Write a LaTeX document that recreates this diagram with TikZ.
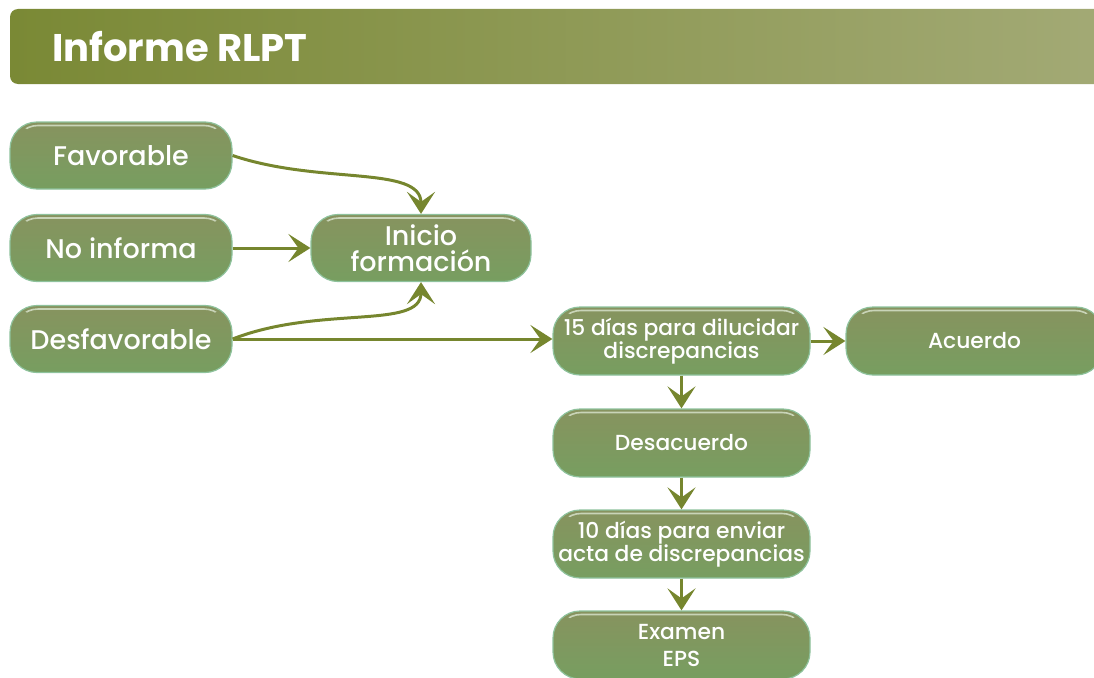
\documentclass[tikz,border=0pt]{standalone}
\usepackage{fontspec}
\setmainfont{Poppins}[UprightFont=*-Medium,BoldFont=*-SemiBold]
\newfontfamily\titlefont{Poppins}[UprightFont=*-Bold]
\usetikzlibrary{arrows.meta,shapes.misc}
\definecolor{hdrL}{HTML}{7A8935}
\definecolor{hdrR}{HTML}{A3AA76}
\definecolor{nodeT}{HTML}{87935F}
\definecolor{nodeB}{HTML}{779E60}
\definecolor{nodeEdge}{HTML}{8EC29C}
\definecolor{hilite}{HTML}{C9D4B8}
\definecolor{arrowc}{HTML}{76862E}
\tikzset{
  pill/.style={draw=nodeEdge, line width=1.2pt, rounded corners=27pt,
    top color=nodeT, bottom color=nodeB, text=white, align=center,
    inner sep=0pt, font=\fontsize{27}{26}\selectfont,
    path picture={
      \begin{scope}
      \clip ([yshift=-9pt]path picture bounding box.north west) rectangle (path picture bounding box.north east);
      \draw[hilite, line width=1.6pt, rounded corners=24pt]
        ([xshift=4pt,yshift=-3.5pt]path picture bounding box.north west) rectangle
        ([xshift=-4pt,yshift=4pt]path picture bounding box.south east);
      \end{scope}}},
  leftpill/.style={pill, minimum width=222pt, minimum height=67pt},
  rightpill/.style={pill, minimum width=257pt, minimum height=68pt, font=\fontsize{21.8}{22.5}\selectfont},
  flow/.style={draw=arrowc, line width=3pt,
    -{Stealth[length=22pt,width=28pt,inset=10pt,fill=arrowc]}},
}
\begin{document}
\begin{tikzpicture}[x=1pt,y=-1pt]
\useasboundingbox (0,0) rectangle (1094,677);
\clip (0,0) rectangle (1094,677);
% header
\shade[left color=hdrL, right color=hdrR, rounded corners=8pt]
  (10,9) rectangle (1120,84);
\node[anchor=base west, text=white, font=\titlefont\fontsize{38.5}{38}\selectfont, inner sep=0pt]
  (title) at (52,61) {Informe RLPT};
% left column
\node[leftpill] (fav) at (121,155.5) {Favorable};
\node[leftpill] (noi) at (121,248) {No informa};
\node[leftpill] (des) at (121,339) {Desfavorable};
\node[leftpill, minimum width=220pt] (ini) at (421,248) {Inicio\\formación};
% right column
\node[rightpill] (d15) at (681.5,341) {15 días para dilucidar\\discrepancias};
\node[rightpill] (acu) at (974.5,341) {Acuerdo};
\node[rightpill] (dsa) at (681.5,443) {Desacuerdo};
\node[rightpill] (d10) at (681.5,544) {10 días para enviar\\acta de discrepancias};
\node[rightpill, font=\fontsize{21.8}{27}\selectfont] (exa) at (681.5,645) {Examen\\EPS};
% connectors
\draw[flow] (fav.east) .. controls (320,185) and (421,165) .. (ini.north);
\draw[flow] (noi.east) -- (ini.west);
\draw[flow] (des.east) .. controls (320,305) and (421,330) .. (ini.south);
\draw[flow] (des.east) -- (des.east -| d15.west);
\draw[flow] (d15.east) -- (acu.west);
\draw[flow] (d15.south) -- (dsa.north);
\draw[flow] (dsa.south) -- (d10.north);
\draw[flow] (d10.south) -- (exa.north);
\end{tikzpicture}
\end{document}
